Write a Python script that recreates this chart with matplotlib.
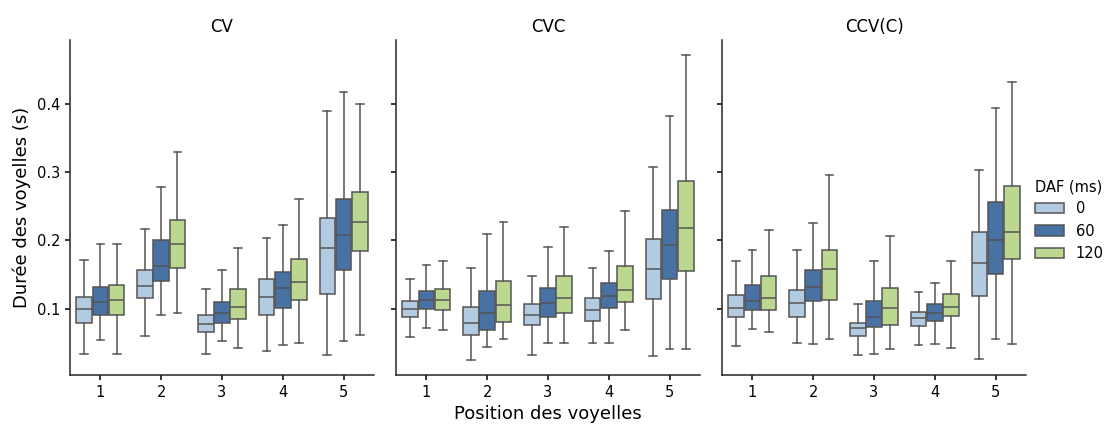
import matplotlib
matplotlib.use("Agg")
import matplotlib.pyplot as plt
from matplotlib.patches import Patch

# Panels (syllable structure), x categories and hue levels
STRUCTURES = ["CV", "CVC", "CCV(C)"]
POSITIONS = ["1", "2", "3", "4", "5"]
DAF_LEVELS = ["0", "60", "120"]
COLORS = ["#b3cbe0", "#4872a3", "#bcd78f"]

# Box stats, one row per DAF level (0, 60, 120),
# one column per vowel position (1..5). Values in seconds.
CV_WHISLO = [[0.034, 0.060, 0.034, 0.038, 0.032],
             [0.054, 0.091, 0.052, 0.047, 0.052],
             [0.034, 0.094, 0.042, 0.050, 0.062]]
CV_Q1 = [[0.0795, 0.115, 0.065, 0.091, 0.122],
         [0.090, 0.140, 0.079, 0.101, 0.157],
         [0.090, 0.160, 0.084, 0.113, 0.185]]
CV_MED = [[0.100, 0.133, 0.078, 0.117, 0.189],
          [0.110, 0.162, 0.094, 0.130, 0.207],
          [0.113, 0.194, 0.103, 0.139, 0.227]]
CV_Q3 = [[0.1175, 0.156, 0.091, 0.143, 0.232],
         [0.132, 0.200, 0.110, 0.153, 0.260],
         [0.135, 0.230, 0.129, 0.172, 0.270]]
CV_WHISHI = [[0.171, 0.217, 0.129, 0.203, 0.389],
             [0.195, 0.278, 0.157, 0.222, 0.417],
             [0.194, 0.329, 0.188, 0.260, 0.400]]

CVC_WHISLO = [[0.059, 0.025, 0.032, 0.049, 0.031],
              [0.071, 0.0435, 0.049, 0.049, 0.0405],
              [0.068, 0.055, 0.050, 0.068, 0.0415]]
CVC_Q1 = [[0.087, 0.061, 0.076, 0.0825, 0.1145],
          [0.099, 0.069, 0.088, 0.1005, 0.144],
          [0.098, 0.080, 0.093, 0.109, 0.1545]]
CVC_MED = [[0.0995, 0.079, 0.090, 0.0975, 0.1575],
           [0.113, 0.093, 0.108, 0.118, 0.1925],
           [0.113, 0.105, 0.116, 0.127, 0.218]]
CVC_Q3 = [[0.111, 0.102, 0.106, 0.1155, 0.202],
          [0.126, 0.126, 0.130, 0.138, 0.244],
          [0.128, 0.141, 0.147, 0.163, 0.287]]
CVC_WHISHI = [[0.144, 0.159, 0.147, 0.159, 0.308],
              [0.164, 0.209, 0.190, 0.185, 0.3825],
              [0.170, 0.227, 0.220, 0.243, 0.471]]

CCV_WHISLO = [[0.0455, 0.050, 0.032, 0.047, 0.0265],
              [0.070, 0.048, 0.034, 0.048, 0.055],
              [0.0655, 0.055, 0.0415, 0.0425, 0.048]]
CCV_Q1 = [[0.087, 0.088, 0.0605, 0.074, 0.1185],
          [0.0975, 0.111, 0.073, 0.0815, 0.150],
          [0.0975, 0.113, 0.0765, 0.089, 0.172]]
CCV_MED = [[0.101, 0.108, 0.071, 0.0855, 0.166],
           [0.111, 0.131, 0.088, 0.093, 0.200],
           [0.116, 0.1575, 0.1005, 0.103, 0.2125]]
CCV_Q3 = [[0.120, 0.127, 0.0795, 0.095, 0.2115],
          [0.134, 0.156, 0.111, 0.106, 0.256],
          [0.148, 0.186, 0.130, 0.1215, 0.279]]
CCV_WHISHI = [[0.170, 0.186, 0.107, 0.124, 0.3035],
              [0.186, 0.225, 0.169, 0.1375, 0.394],
              [0.2155, 0.296, 0.2065, 0.169, 0.432]]

PANEL_STATS = {
    "CV": (CV_WHISLO, CV_Q1, CV_MED, CV_Q3, CV_WHISHI),
    "CVC": (CVC_WHISLO, CVC_Q1, CVC_MED, CVC_Q3, CVC_WHISHI),
    "CCV(C)": (CCV_WHISLO, CCV_Q1, CCV_MED, CCV_Q3, CCV_WHISHI),
}

LINE = "#555555"
BOX_W = 0.8 / len(DAF_LEVELS)

plt.rcParams["font.family"] = "DejaVu Sans"
plt.rcParams["axes.linewidth"] = 1.1
plt.rcParams["xtick.major.width"] = 1.1
plt.rcParams["ytick.major.width"] = 1.1
plt.rcParams["xtick.major.size"] = 3.5
plt.rcParams["ytick.major.size"] = 3.5
plt.rcParams["xtick.labelsize"] = 10.5
plt.rcParams["ytick.labelsize"] = 10.5
plt.rcParams["axes.edgecolor"] = "#262626"

fig = plt.figure(figsize=(11.07, 4.26), dpi=100)
left0, pw, gap = 70 / 1107, 304 / 1107, 22 / 1107
bottom, height = 1 - 375 / 426, (375 - 40) / 426

axes = []
for i, name in enumerate(STRUCTURES):
    ax = fig.add_axes([left0 + i * (pw + gap), bottom, pw, height],
                      sharey=axes[0] if axes else None)
    axes.append(ax)
    whislo, q1, med, q3, whishi = PANEL_STATS[name]
    for h, color in enumerate(COLORS):
        stats = [
            {"whislo": whislo[h][p], "q1": q1[h][p], "med": med[h][p],
             "q3": q3[h][p], "whishi": whishi[h][p], "fliers": []}
            for p in range(len(POSITIONS))
        ]
        offset = (h - 1) * BOX_W
        ax.bxp(stats, positions=[p + offset for p in range(len(POSITIONS))],
               widths=BOX_W * 0.96, patch_artist=True, showfliers=False,
               manage_ticks=False,
               boxprops=dict(facecolor=color, edgecolor=LINE, linewidth=1.1),
               medianprops=dict(color=LINE, linewidth=1.1),
               whiskerprops=dict(color=LINE, linewidth=1.1),
               capprops=dict(color=LINE, linewidth=1.1))
    ax.set_xlim(-0.5, len(POSITIONS) - 0.5)
    ax.set_xticks(range(len(POSITIONS)))
    ax.set_xticklabels(POSITIONS)
    ax.set_yticks([0.1, 0.2, 0.3, 0.4])
    ax.set_title(name, fontsize=12)
    ax.spines["top"].set_visible(False)
    ax.spines["right"].set_visible(False)
    if i > 0:
        ax.tick_params(labelleft=False)

axes[0].set_ylabel("Durée des voyelles (s)", fontsize=13)
axes[1].set_xlabel("Position des voyelles", fontsize=13)

handles = [Patch(facecolor=c, edgecolor=LINE, linewidth=1.1, label=l)
           for c, l in zip(COLORS, DAF_LEVELS)]
fig.legend(handles=handles, title="DAF (ms)", loc="center left",
           bbox_to_anchor=(1035 / 1107, 1 - 220 / 426), frameon=False,
           borderaxespad=0, borderpad=0,
           fontsize=10.5, title_fontsize=10.5, alignment="left")

fig.savefig("out.png", dpi=100)
